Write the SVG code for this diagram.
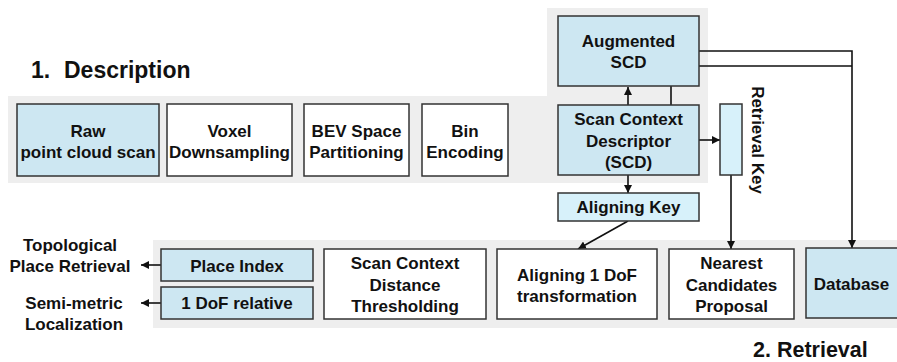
<svg xmlns="http://www.w3.org/2000/svg" width="897" height="362" viewBox="0 0 897 362">
<defs>
<marker id="ah" viewBox="0 0 10 10" refX="10" refY="5" markerWidth="8" markerHeight="8" markerUnits="userSpaceOnUse" orient="auto">
<path d="M0,0 L10,5 L0,10 z" fill="#111"/>
</marker>
<style>
.band{fill:#eeeeee;stroke:none}
.box{stroke:#333;stroke-width:1.5}
.w{fill:#ffffff}
.b{fill:#cde7f2}
.c{fill:#d7f1fa}
.t{font-family:"Liberation Sans",Arial,sans-serif;font-weight:bold;font-size:17px;fill:#111;text-anchor:middle}
.title{font-family:"Liberation Sans",Arial,sans-serif;font-weight:bold;font-size:21.5px;fill:#111}
.ln{fill:none;stroke:#111;stroke-width:1.6}
</style>
</defs>
<rect width="897" height="362" fill="#ffffff"/>
<g id="bands">
<rect class="band" x="8" y="96" width="700" height="87"/>
<rect class="band" x="547" y="8" width="161" height="88"/>
<rect class="band" x="153" y="240" width="744" height="88"/>
</g>
<text class="title" x="31" y="78" style="font-size:23px">1.<tspan x="64">Description</tspan></text>
<text class="title" x="753" y="357">2. Retrieval</text>

<g id="connectors">
<line class="ln" x1="628" y1="105" x2="628" y2="87" marker-end="url(#ah)"/>
<line class="ln" x1="699" y1="140" x2="720" y2="140" marker-end="url(#ah)"/>
<line class="ln" x1="628" y1="175" x2="628" y2="193" marker-end="url(#ah)"/>
<polyline class="ln" points="699,51 852,51 852,248" marker-end="url(#ah)"/>
<polyline class="ln" points="671,105 671,66 852,66"/>
<line class="ln" x1="731" y1="175" x2="731" y2="249" marker-end="url(#ah)"/>
<line class="ln" x1="628" y1="221" x2="578" y2="249" marker-end="url(#ah)"/>
<line class="ln" x1="161" y1="265" x2="141" y2="265" marker-end="url(#ah)"/>
<line class="ln" x1="161" y1="303" x2="141" y2="303" marker-end="url(#ah)"/>
</g>

<g id="raw"><rect class="box b" x="17" y="104" width="142" height="72"/>
<text class="t" x="88" y="137">Raw</text><text class="t" x="88" y="158">point cloud scan</text></g>
<g id="voxel"><rect class="box w" x="167" y="104" width="125" height="72"/>
<text class="t" x="229.5" y="137">Voxel</text><text class="t" x="229.5" y="158">Downsampling</text></g>
<g id="bev"><rect class="box w" x="304" y="104" width="105" height="72"/>
<text class="t" x="356.5" y="137">BEV Space</text><text class="t" x="356.5" y="158">Partitioning</text></g>
<g id="bin"><rect class="box w" x="422" y="104" width="86" height="72"/>
<text class="t" x="465" y="137">Bin</text><text class="t" x="465" y="158">Encoding</text></g>
<g id="scd"><rect class="box b" x="558" y="105" width="141" height="70"/>
<text class="t" x="628.5" y="125">Scan Context</text><text class="t" x="628.5" y="147">Descriptor</text><text class="t" x="628.5" y="168">(SCD)</text></g>
<g id="augmented"><rect class="box b" x="558" y="16" width="141" height="70"/>
<text class="t" x="628.5" y="47">Augmented</text><text class="t" x="628.5" y="68">SCD</text></g>
<g id="retrieval-key"><rect class="box c" x="720" y="104" width="22" height="71"/>
<text class="t" transform="translate(752,140) rotate(90)" x="0" y="0">Retrieval Key</text></g>
<g id="aligning-key"><rect class="box c" x="558" y="193" width="141" height="28"/>
<text class="t" x="628.5" y="213">Aligning Key</text></g>
<g id="place-index"><rect class="box b" x="161" y="249" width="152" height="32"/>
<text class="t" x="237" y="272">Place Index</text></g>
<g id="dof-relative"><rect class="box b" x="161" y="287" width="152" height="32"/>
<text class="t" x="237" y="309">1 DoF relative</text></g>
<g id="distance"><rect class="box w" x="324" y="249" width="162" height="70"/>
<text class="t" x="405" y="269">Scan Context</text><text class="t" x="405" y="291">Distance</text><text class="t" x="405" y="312">Thresholding</text></g>
<g id="aligning-dof"><rect class="box w" x="497" y="249" width="160" height="70"/>
<text class="t" x="577" y="281">Aligning 1 DoF</text><text class="t" x="577" y="302">transformation</text></g>
<g id="nearest"><rect class="box w" x="669" y="249" width="125" height="70"/>
<text class="t" x="731.5" y="269">Nearest</text><text class="t" x="731.5" y="291">Candidates</text><text class="t" x="731.5" y="312">Proposal</text></g>
<g id="database"><rect class="box b" x="806" y="248" width="95" height="70"/>
<text class="t" x="851.5" y="290">Database</text></g>
<g id="topological"><text class="t" x="70" y="251">Topological</text><text class="t" x="70" y="272">Place Retrieval</text></g>
<g id="semimetric"><text class="t" x="74" y="309">Semi-metric</text><text class="t" x="74" y="330">Localization</text></g>
</svg>
